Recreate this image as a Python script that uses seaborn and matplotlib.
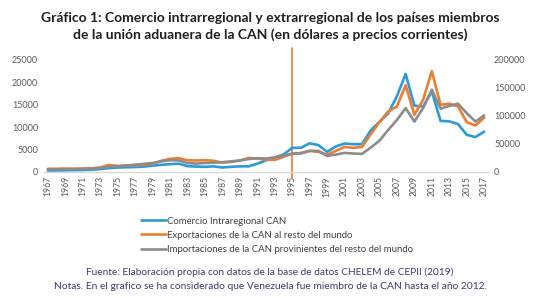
import numpy as np
import pandas as pd
import seaborn as sns
from matplotlib import pyplot as plt

years = list(range(1967, 2018))

# Comercio intrarregional (eje izquierdo)
intra = [300, 320, 350, 400, 430, 500, 650, 850, 1000, 1050,
         1100, 1200, 1400, 1600, 1750, 1850, 1300, 1200, 1150, 1250,
         1000, 1150, 1250, 1250, 1850, 2600, 3200, 3900, 5380, 5400,
         6400, 6000, 4500, 5700, 6350, 6200, 6200, 9300, 11200, 13100,
         16900, 21900, 14800, 14600, 18000, 11400, 11300, 10700, 8300, 7800,
         9000]

# Exportaciones al resto del mundo (eje derecho)
exports = [5500, 5500, 5800, 5500, 5600, 6500, 8000, 12500, 10500, 11500,
           12000, 13000, 14500, 20000, 23500, 24500, 21000, 20500, 21000, 20000,
           16500, 18000, 20500, 25000, 24000, 22000, 21500, 27000, 32800, 34000,
           37700, 35800, 31000, 37700, 44800, 43000, 44800, 67500, 89000, 108000,
           117000, 155000, 102000, 129000, 180000, 120000, 122000, 117000, 89000, 83000,
           97000]

# Importaciones desde el resto del mundo (eje derecho)
imports = [4800, 5000, 5200, 5400, 5800, 6200, 7000, 9000, 10500, 11500,
           13000, 14500, 16000, 19000, 21000, 20500, 16000, 15000, 16000, 16500,
           17500, 19000, 20500, 23000, 24500, 24000, 26000, 29000, 32900, 33000,
           37700, 37700, 28700, 31100, 34100, 32900, 32300, 43600, 56000, 75000,
           93000, 114000, 90000, 114000, 147000, 113000, 118000, 122000, 105000, 90000,
           101000]

labels = ["Comercio Intraregional CAN",
          "Exportaciones de la CAN al resto del mundo",
          "Importaciones de la CAN provinientes del resto del mundo"]
colors = ["#2b9bd8", "#ed7d31", "#8c8c8c"]

df = pd.DataFrame({"year": years, "intra": intra, "exports": exports, "imports": imports})

sns.set_style("white")
plt.rcParams["font.family"] = ["Lato", "DejaVu Sans"]

fig = plt.figure(figsize=(5.4, 2.97), dpi=100)
ax = fig.add_axes([0.0807, 0.421, 0.824, 0.377])
ax2 = ax.twinx()

sns.lineplot(data=df, x="year", y="intra", ax=ax, color=colors[0], lw=1.9, label=labels[0], legend=False)
sns.lineplot(data=df, x="year", y="exports", ax=ax2, color=colors[1], lw=1.9, label=labels[1], legend=False)
sns.lineplot(data=df, x="year", y="imports", ax=ax2, color=colors[2], lw=1.9, label=labels[2], legend=False)

ax.axvline(1995, ymin=-0.05, ymax=1.11, color=colors[1], lw=1.2, clip_on=False, zorder=0)

ax.set_xlim(1966.5, 2017.5)
ax.set_ylim(0, 25000)
ax2.set_ylim(0, 200000)
ax.set_yticks(range(0, 25001, 5000))
ax2.set_yticks(range(0, 200001, 50000))
ax.set_xticks(years[::2])
ax.set_xticklabels([str(y) for y in years[::2]], rotation=90)

for a in (ax, ax2):
    for s in a.spines.values():
        s.set_visible(False)
    a.set_xlabel("")
    a.set_ylabel("")
    a.tick_params(length=0, labelsize=6.5, labelcolor="#595959", pad=4)
ax.spines["bottom"].set_visible(True)
ax.spines["bottom"].set_color("#d9d9d9")
ax.spines["bottom"].set_linewidth(1.0)
ax.tick_params(axis="x", labelsize=6.2, pad=3)

handles = ax.get_lines()[:1] + ax2.get_lines()[:2]
fig.legend(handles, labels, loc="upper left", bbox_to_anchor=(0.245, 0.3), frameon=False,
           fontsize=6.9, handlelength=2.6, handletextpad=0.15, labelspacing=0.55,
           labelcolor="#404040")

fig.text(0.5, 0.938, "Gráfico 1: Comercio intrarregional y extrarregional de los países miembros",
         ha="center", va="center", fontsize=10, fontweight="bold", color="#1e1e1e")
fig.text(0.5, 0.884, "de la unión aduanera de la CAN (en dólares a precios corrientes)",
         ha="center", va="center", fontsize=10, fontweight="bold", color="#1e1e1e")

fig.text(0.5, 0.085, "Fuente: Elaboración propia con datos de la base de datos CHELEM de CEPII (2019)",
         ha="center", va="center", fontsize=7.3, color="#3d3b6b")
fig.text(0.5, 0.034, "Notas. En el grafico se ha considerado que Venezuela fue miembro de la CAN hasta el año 2012.",
         ha="center", va="center", fontsize=7.4, color="#3d3b6b")

fig.savefig("out.png", dpi=100)
